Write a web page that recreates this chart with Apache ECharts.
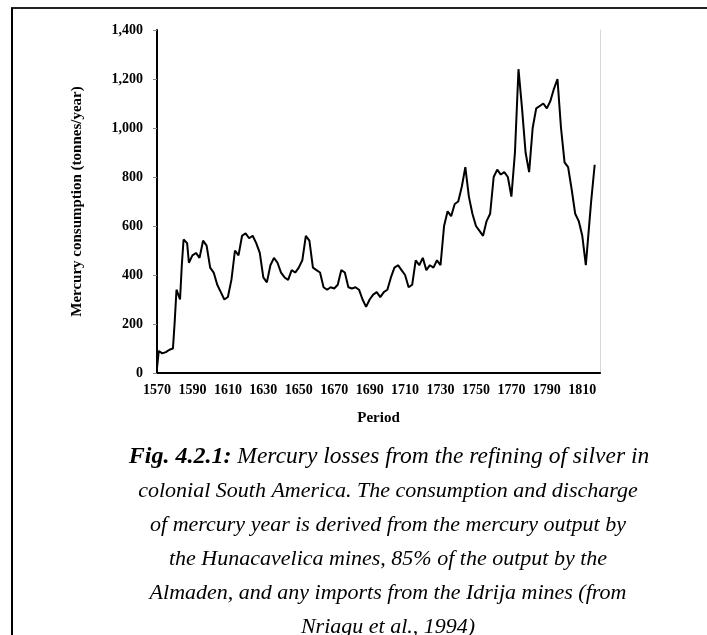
<!DOCTYPE html>
<html>
<head>
<meta charset="utf-8">
<script src="https://cdn.jsdelivr.net/npm/echarts@6/dist/echarts.min.js"></script>
<style>
html,body{margin:0;padding:0;background:#fff;}
#c{width:707px;height:635px;}
</style>
</head>
<body>
<div id="c"></div>
<script>
const years = [1570,1571,1573,1575,1577,1579,1580,1581,1583,1584,1585,1587,1588,1590,1592,1594,1596,1598,1600,1602,1604,1606,1608,1610,1612,1614,1616,1618,1620,1622,1624,1626,1628,1630,1632,1634,1636,1638,1640,1642,1644,1646,1648,1650,1652,1654,1656,1658,1660,1662,1664,1666,1668,1670,1672,1674,1676,1678,1680,1682,1684,1686,1688,1690,1692,1694,1696,1698,1700,1702,1704,1706,1708,1710,1712,1714,1716,1718,1720,1722,1724,1726,1728,1730,1732,1734,1736,1738,1740,1742,1744,1746,1748,1750,1752,1754,1756,1758,1760,1762,1764,1766,1768,1770,1772,1774,1776,1778,1780,1782,1784,1786,1788,1790,1792,1794,1796,1798,1800,1802,1804,1806,1808,1810,1812,1815,1817,1819];
const losses = [20,90,80,85,95,100,210,340,300,440,545,530,450,480,490,470,540,520,430,410,360,330,300,310,380,500,480,560,570,550,560,530,490,390,370,440,470,450,410,390,380,420,410,430,460,560,540,430,420,410,350,340,350,345,360,420,410,350,345,350,340,300,270,300,320,330,310,330,340,390,430,440,420,400,350,360,460,440,470,420,440,430,460,440,600,660,640,690,700,760,840,720,650,600,580,560,620,650,800,830,810,820,800,720,900,1240,1080,900,820,1000,1080,1090,1100,1080,1110,1160,1200,1000,860,840,750,650,620,560,440,700,850];
const yTicks = {min:0, max:1400, step:200};
const xRange = {min:1570, max:1820, step:10, labelEvery:20};
const captionFirst = "{b|Fig. 4.2.1:}{w| Mercury losses from the refining of silver in}";
const captionLines = [
  "colonial South America. The consumption and discharge",
  "of mercury year is derived from the mercury output by",
  "the Hunacavelica mines, 85% of the output by the",
  "Almaden, and any imports from the Idrija mines (from",
  "Nriagu et al., 1994)"
];

const FONT = '"Liberation Serif", "Times New Roman", serif';
const chart = echarts.init(document.getElementById('c'), null, {renderer:'canvas'});
chart.setOption({
  backgroundColor:'#fff',
  animation:false,
  grid:{left:157, right:107, top:30, bottom:262, containLabel:false},
  xAxis:[{
    type:'value', min:xRange.min, max:xRange.max, interval:xRange.step,
    name:'Period', nameLocation:'middle', nameGap:38,
    nameTextStyle:{fontFamily:FONT, fontSize:15, fontWeight:'bold', color:'#000'},
    axisLine:{show:true, lineStyle:{color:'#000', width:1}},
    axisTick:{show:false},
    splitLine:{show:false},
    axisLabel:{fontFamily:FONT, fontSize:14, fontWeight:'bold', color:'#000', margin:10,
      showMaxLabel:false,
      formatter:function(v){ return ((v - xRange.min) % xRange.labelEvery === 0) ? String(v) : ''; }}
  },{
    type:'value', position:'top', min:xRange.min, max:xRange.max,
    axisLine:{show:true, lineStyle:{color:'#000', width:2}},
    axisTick:{show:false}, axisLabel:{show:false}, splitLine:{show:false}
  }],
  yAxis:[{
    type:'value', min:yTicks.min, max:yTicks.max, interval:yTicks.step,
    name:'Mercury consumption (tonnes/year)', nameLocation:'middle', nameGap:72, nameRotate:90,
    nameTextStyle:{fontFamily:FONT, fontSize:15, fontWeight:'bold', color:'#000'},
    axisLine:{show:true, lineStyle:{color:'#000', width:2}},
    axisTick:{show:true, inside:false, length:4, lineStyle:{color:'#888'}},
    splitLine:{show:false},
    axisLabel:{fontFamily:FONT, fontSize:14, fontWeight:'bold', color:'#000', margin:14}
  },{
    type:'value', position:'right', min:yTicks.min, max:yTicks.max,
    axisLine:{show:true, lineStyle:{color:'#d8d8d8', width:1}},
    axisTick:{show:false}, axisLabel:{show:false}, splitLine:{show:false}
  }],
  series:[{
    type:'line',
    data: years.map((y,i)=>[y, losses[i]]),
    showSymbol:false,
    lineStyle:{color:'#000', width:2},
    itemStyle:{color:'#000'}
  }],
  graphic:[
    {type:'line', shape:{x1:11, y1:8, x2:707, y2:8}, style:{stroke:'#222', lineWidth:2}},
    {type:'line', shape:{x1:12, y1:8, x2:12, y2:635}, style:{stroke:'#000', lineWidth:2}},
    {type:'text', x:389, y:440,
     style:{
       text: captionFirst,
       align:'center', verticalAlign:'top',
       rich:{
         b:{fontFamily:FONT, fontSize:24, fontStyle:'italic', fontWeight:'bold', fill:'#000', lineHeight:34},
         w:{fontFamily:FONT, fontSize:23.5, fontStyle:'italic', fill:'#000', lineHeight:34}
       }
     }},
    {type:'text', x:388, y:474,
     style:{
       text: captionLines.join('\n'),
       fontFamily:FONT, fontSize:22, fontStyle:'italic', fill:'#000',
       align:'center', verticalAlign:'top', lineHeight:34
     }}
  ]
});
</script>
</body>
</html>
